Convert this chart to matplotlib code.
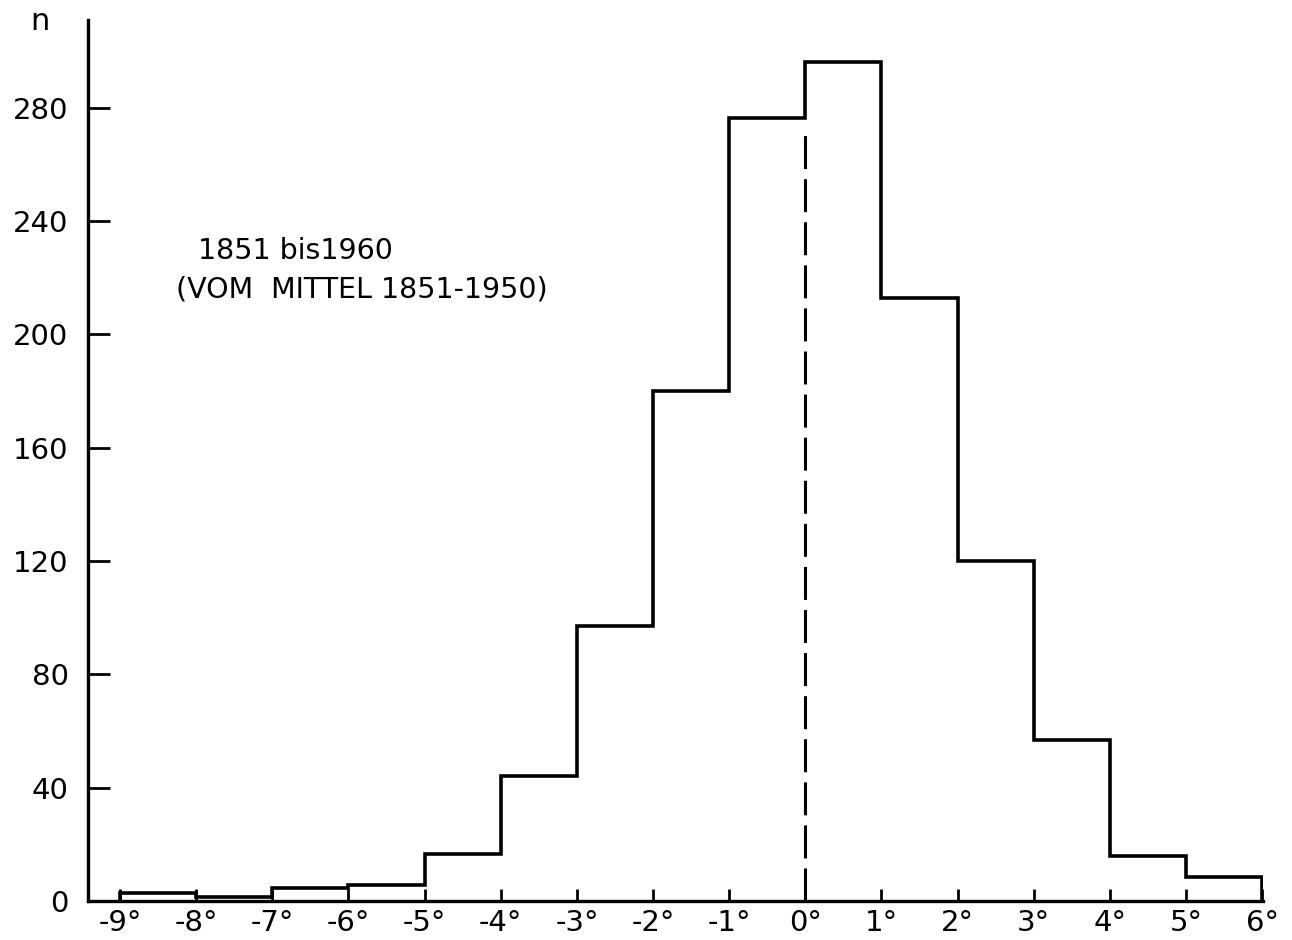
import matplotlib.pyplot as plt
import numpy as np

# class edges (deg) and counts
edges = np.arange(-9, 7, 1)
counts = [3, 1.5, 4.6, 5.6, 16.6, 44, 97, 180, 276.5, 296, 213, 120, 56.8, 16, 8.5]
xticks = list(range(-9, 7))
xlabels = ['-9°', '-8°', '-7°', '-6°', '-5°', '-4°', '-3°', '-2°', '-1°',
           '0°', '1°', '2°', '3°', '4°', '5°', '6°']
yticks = [0, 40, 80, 120, 160, 200, 240, 280]

plt.rcParams['font.family'] = ['DejaVu Sans']

fig = plt.figure(figsize=(12.92, 9.4), dpi=100)
ax = fig.add_axes([88/1292, 39/940, (1263-88)/1292, (901-20)/940])

ax.stairs(counts, edges, baseline=0, fill=False, color='black', linewidth=2.6)
ax.plot([0, 0], [0, counts[8] - 3], color='black', linewidth=2.2,
        linestyle=(0, (10.8, 3.3)))

ax.set_xlim(-9.42, 6.01)
ax.set_ylim(0, 311)
ax.spines['top'].set_visible(False)
ax.spines['right'].set_visible(False)
ax.spines['left'].set_linewidth(2.4)
ax.spines['bottom'].set_linewidth(2.4)

ax.set_xticks(xticks)
ax.set_xticklabels(xlabels, fontsize=21)
ax.set_yticks(yticks)
ax.set_yticklabels([str(v) for v in yticks], fontsize=21)
ax.tick_params(axis='y', direction='in', length=16, width=2, pad=14)
ax.tick_params(axis='x', direction='in', length=9, width=2, pad=6)

fig.text(40/1292, 1 - 22/940, 'n', fontsize=22, ha='center', va='center')
ax.text(-6.69, 229.5, '1851 bis1960', fontsize=20.5, ha='center', va='center')
ax.text(-5.83, 215.7, '(VOM  MITTEL 1851-1950)', fontsize=20.5, ha='center',
        va='center')

fig.savefig('out.png', dpi=100)
